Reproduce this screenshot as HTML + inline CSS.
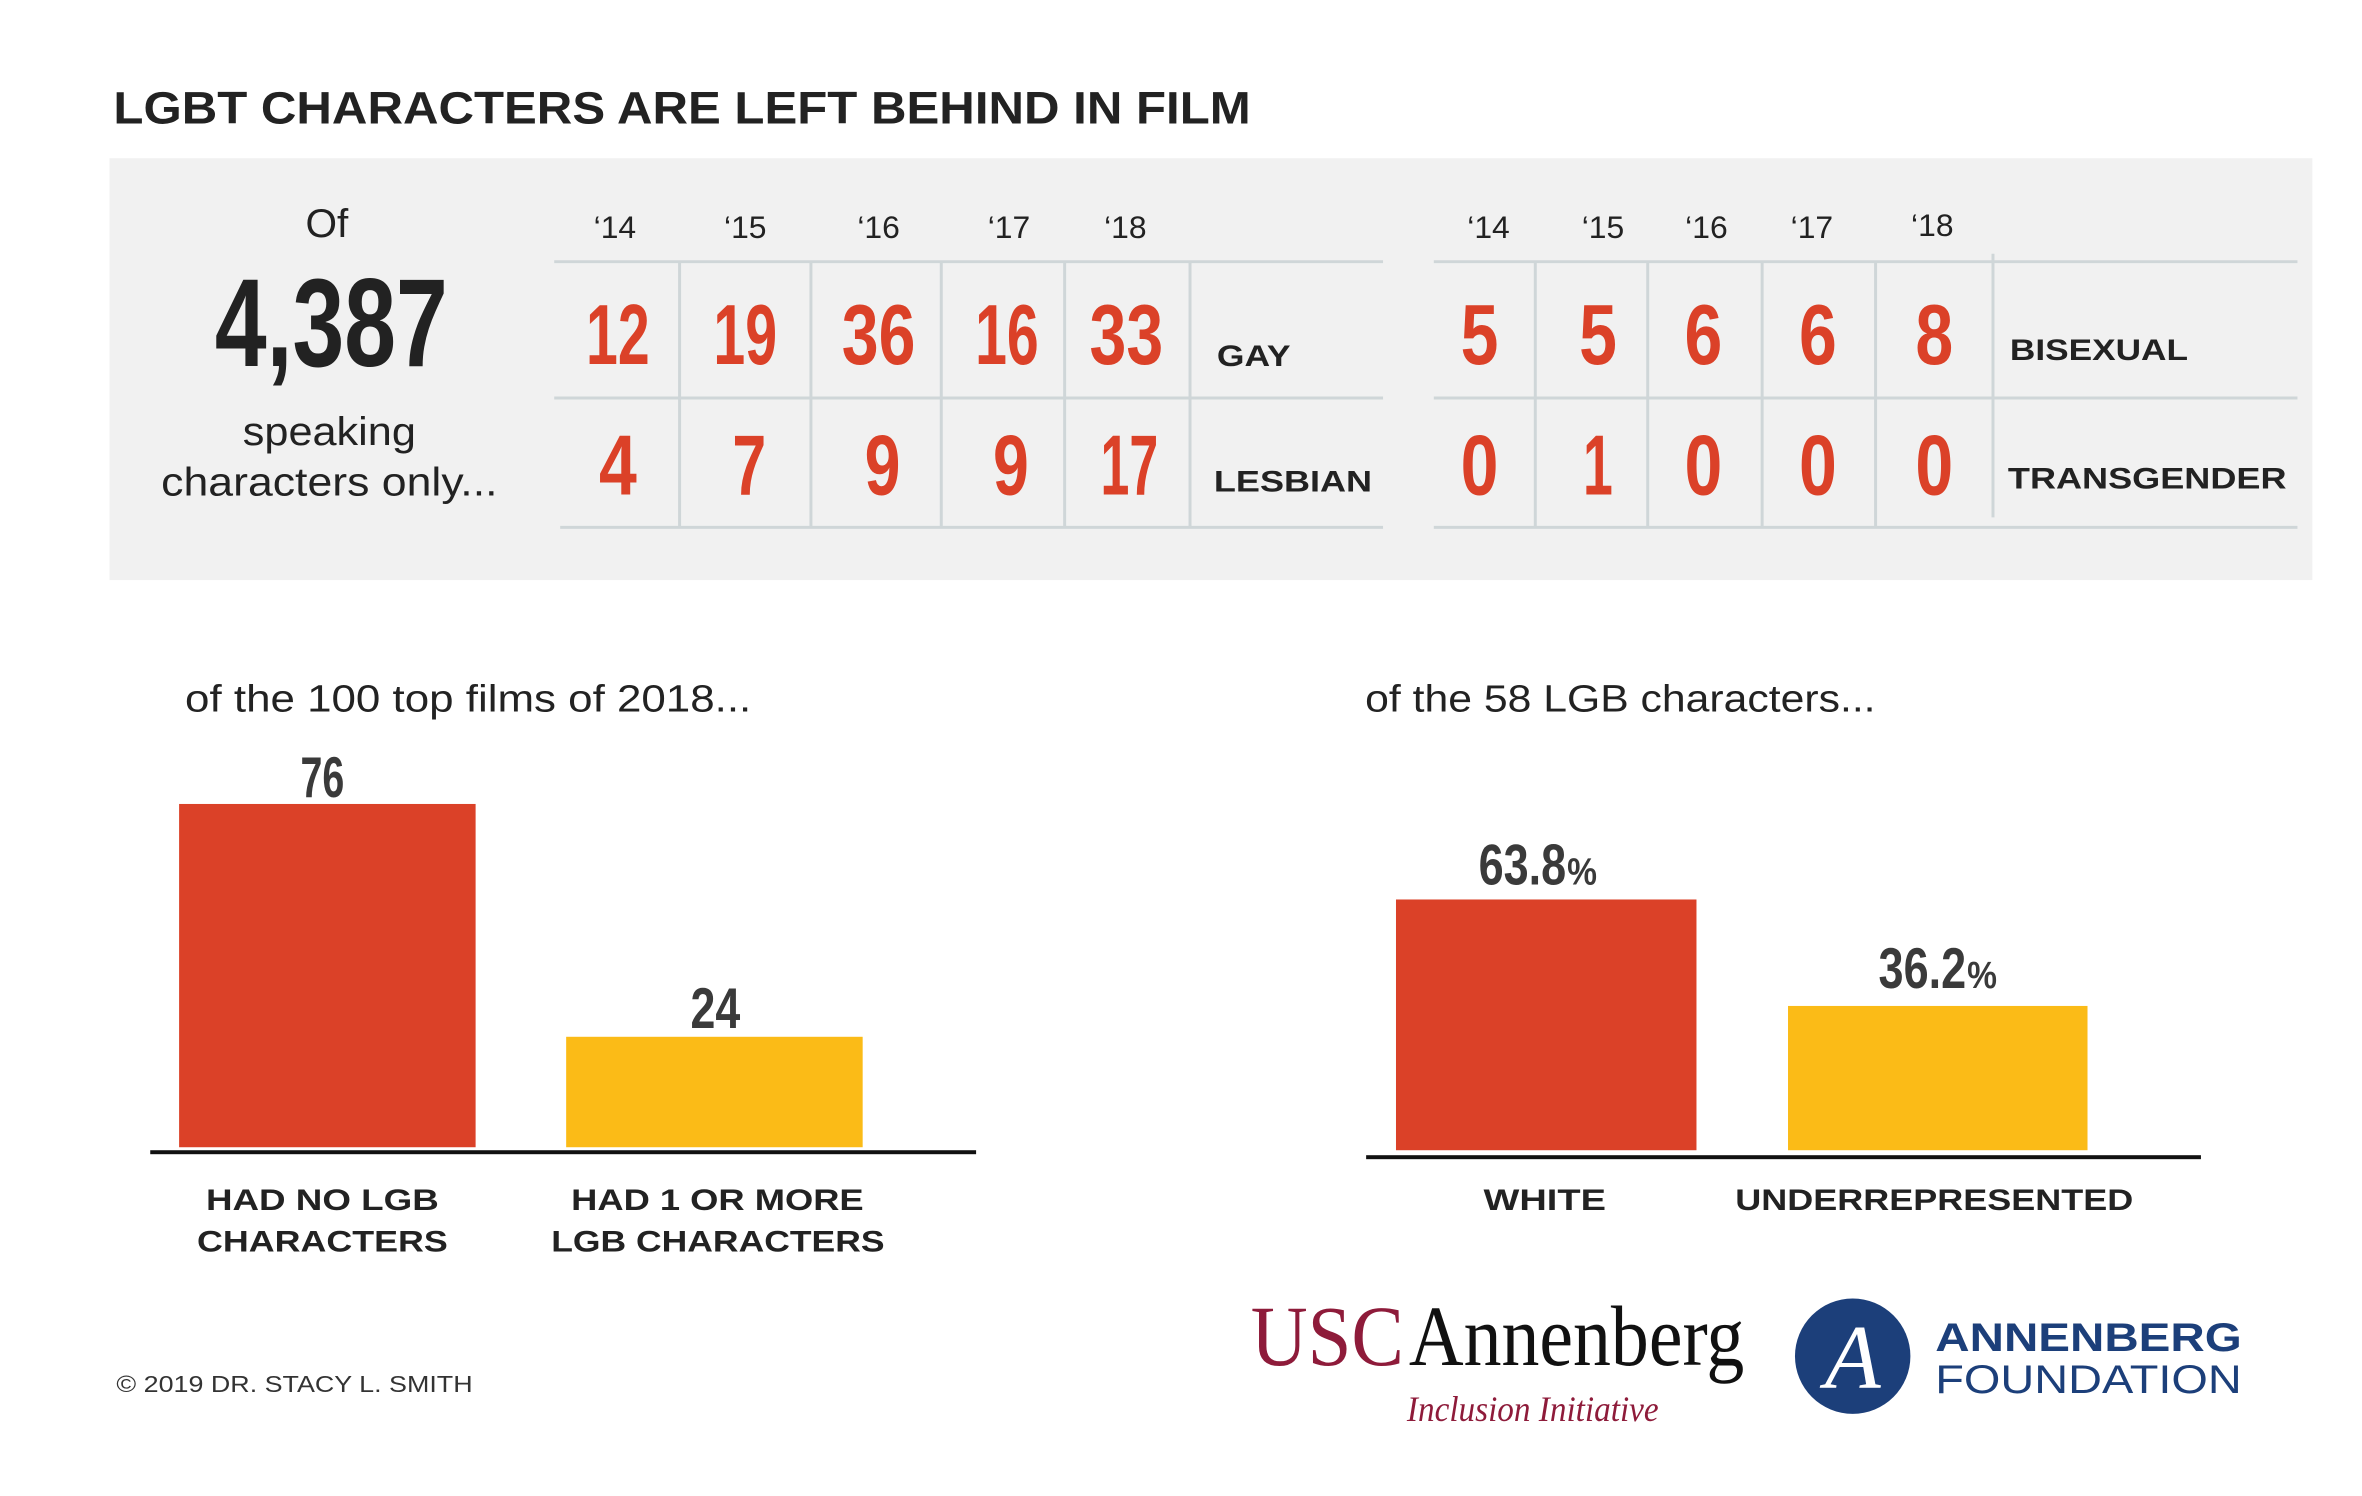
<!DOCTYPE html>
<html><head><meta charset="utf-8"><style>
html,body{margin:0;padding:0;background:#fff;}
svg{display:block;}
text{font-family:"Liberation Sans",sans-serif;}
.r{fill:#db4128;}
</style></head><body>
<svg width="2362" height="1496" viewBox="0 0 2362 1496" xmlns="http://www.w3.org/2000/svg">
<rect width="2362" height="1496" fill="#fff"/>
<g transform="scale(0.995)">
<text x="114" y="124" font-size="46" font-weight="bold" fill="#222" textLength="1143" lengthAdjust="spacingAndGlyphs">LGBT CHARACTERS ARE LEFT BEHIND IN FILM</text>
<rect x="110" y="159" width="2214" height="424" fill="#f1f1f1"/>
<text x="307" y="238" font-size="40" fill="#222" textLength="43" lengthAdjust="spacingAndGlyphs">Of</text>
<text x="216" y="368" font-size="126" font-weight="bold" fill="#222" textLength="234" lengthAdjust="spacingAndGlyphs">4,387</text>
<text x="244" y="447" font-size="40" fill="#222" textLength="174" lengthAdjust="spacingAndGlyphs">speaking</text>
<text x="162" y="498" font-size="40" fill="#222" textLength="338" lengthAdjust="spacingAndGlyphs">characters only...</text>
<g stroke="#cfd6d8" stroke-width="3">
<line x1="557" y1="263" x2="1390" y2="263"/><line x1="557" y1="400" x2="1390" y2="400"/><line x1="563" y1="530" x2="1390" y2="530"/>
<line x1="683" y1="263" x2="683" y2="530"/><line x1="815" y1="263" x2="815" y2="530"/><line x1="946" y1="263" x2="946" y2="530"/><line x1="1070" y1="263" x2="1070" y2="530"/><line x1="1196" y1="263" x2="1196" y2="530"/>
<line x1="1441" y1="263" x2="2309" y2="263"/><line x1="1441" y1="400" x2="2309" y2="400"/><line x1="1441" y1="530" x2="2309" y2="530"/>
<line x1="1543" y1="263" x2="1543" y2="530"/><line x1="1656" y1="263" x2="1656" y2="530"/><line x1="1771" y1="263" x2="1771" y2="530"/><line x1="1885" y1="263" x2="1885" y2="530"/><line x1="2003" y1="255" x2="2003" y2="520"/>
</g>
<g font-size="32" fill="#222" text-anchor="middle">
<text x="618" y="239">‘14</text><text x="749" y="239">‘15</text><text x="883" y="239">‘16</text><text x="1014" y="239">‘17</text><text x="1131" y="239">‘18</text>
<text x="1496" y="239">‘14</text><text x="1611" y="239">‘15</text><text x="1715" y="239">‘16</text><text x="1821" y="239">‘17</text><text x="1942" y="237">‘18</text>
</g>
<g class="r" font-size="86" font-weight="bold" text-anchor="middle">
<text x="621" y="366" textLength="64" lengthAdjust="spacingAndGlyphs">12</text>
<text x="749" y="366" textLength="64" lengthAdjust="spacingAndGlyphs">19</text>
<text x="883" y="366" textLength="74" lengthAdjust="spacingAndGlyphs">36</text>
<text x="1012" y="366" textLength="64" lengthAdjust="spacingAndGlyphs">16</text>
<text x="1132" y="366" textLength="74" lengthAdjust="spacingAndGlyphs">33</text>
<text x="621" y="497" textLength="38" lengthAdjust="spacingAndGlyphs">4</text>
<text x="753" y="497" textLength="34" lengthAdjust="spacingAndGlyphs">7</text>
<text x="887" y="497" textLength="36" lengthAdjust="spacingAndGlyphs">9</text>
<text x="1016" y="497" textLength="36" lengthAdjust="spacingAndGlyphs">9</text>
<text x="1135" y="497" textLength="58" lengthAdjust="spacingAndGlyphs">17</text>
<text x="1487" y="366" textLength="38" lengthAdjust="spacingAndGlyphs">5</text>
<text x="1606" y="366" textLength="38" lengthAdjust="spacingAndGlyphs">5</text>
<text x="1712" y="366" textLength="38" lengthAdjust="spacingAndGlyphs">6</text>
<text x="1827" y="366" textLength="38" lengthAdjust="spacingAndGlyphs">6</text>
<text x="1944" y="366" textLength="38" lengthAdjust="spacingAndGlyphs">8</text>
<text x="1487" y="497" textLength="38" lengthAdjust="spacingAndGlyphs">0</text>
<text x="1606" y="497" textLength="30" lengthAdjust="spacingAndGlyphs">1</text>
<text x="1712" y="497" textLength="38" lengthAdjust="spacingAndGlyphs">0</text>
<text x="1827" y="497" textLength="38" lengthAdjust="spacingAndGlyphs">0</text>
<text x="1944" y="497" textLength="38" lengthAdjust="spacingAndGlyphs">0</text>
</g>
<g font-size="30" fill="#222" font-weight="bold">
<text x="1223" y="368" textLength="74" lengthAdjust="spacingAndGlyphs">GAY</text>
<text x="1220" y="494" textLength="159" lengthAdjust="spacingAndGlyphs">LESBIAN</text>
<text x="2020" y="362" textLength="179" lengthAdjust="spacingAndGlyphs">BISEXUAL</text>
<text x="2018" y="491" textLength="280" lengthAdjust="spacingAndGlyphs">TRANSGENDER</text>
</g>
<text x="186" y="715" font-size="38" fill="#222" textLength="569" lengthAdjust="spacingAndGlyphs">of the 100 top films of 2018...</text>
<text x="1372" y="715" font-size="38" fill="#222" textLength="513" lengthAdjust="spacingAndGlyphs">of the 58 LGB characters...</text>
<rect x="180" y="808" width="298" height="345" fill="#db4128"/>
<rect x="569" y="1042" width="298" height="111" fill="#fbbb17"/>
<rect x="151" y="1156" width="830" height="4" fill="#111"/>
<rect x="1403" y="904" width="302" height="252" fill="#db4128"/>
<rect x="1797" y="1011" width="301" height="145" fill="#fbbb17"/>
<rect x="1373" y="1161" width="839" height="4" fill="#111"/>
<g font-size="58" font-weight="bold" fill="#3a3a3a" text-anchor="middle">
<text x="324" y="801" textLength="44" lengthAdjust="spacingAndGlyphs">76</text>
<text x="719" y="1033" textLength="50" lengthAdjust="spacingAndGlyphs">24</text>
</g>
<g font-weight="bold" fill="#3a3a3a">
<text x="1486" y="889" font-size="58" textLength="88" lengthAdjust="spacingAndGlyphs">63.8</text>
<text x="1575" y="889" font-size="38" textLength="30" lengthAdjust="spacingAndGlyphs">%</text>
<text x="1888" y="993" font-size="58" textLength="88" lengthAdjust="spacingAndGlyphs">36.2</text>
<text x="1977" y="993" font-size="38" textLength="30" lengthAdjust="spacingAndGlyphs">%</text>
</g>
<g font-size="30" font-weight="bold" fill="#222">
<text x="207" y="1216" textLength="234" lengthAdjust="spacingAndGlyphs">HAD NO LGB</text>
<text x="198" y="1258" textLength="252" lengthAdjust="spacingAndGlyphs">CHARACTERS</text>
<text x="574" y="1216" textLength="294" lengthAdjust="spacingAndGlyphs">HAD 1 OR MORE</text>
<text x="554" y="1258" textLength="335" lengthAdjust="spacingAndGlyphs">LGB CHARACTERS</text>
<text x="1491" y="1216" textLength="123" lengthAdjust="spacingAndGlyphs">WHITE</text>
<text x="1744" y="1216" textLength="400" lengthAdjust="spacingAndGlyphs">UNDERREPRESENTED</text>
</g>
<text x="117" y="1399" font-size="23" fill="#333" textLength="358" lengthAdjust="spacingAndGlyphs">© 2019 DR. STACY L. SMITH</text>
<text x="1257" y="1372" font-size="86" fill="#8e1b3a" textLength="154" lengthAdjust="spacingAndGlyphs" style="font-family:'Liberation Serif',serif">USC</text>
<text x="1416" y="1372" font-size="86" fill="#111" textLength="337" lengthAdjust="spacingAndGlyphs" style="font-family:'Liberation Serif',serif">Annenberg</text>
<text x="1414" y="1428" font-size="36" fill="#8e1b3a" font-style="italic" textLength="253" lengthAdjust="spacingAndGlyphs" style="font-family:'Liberation Serif',serif">Inclusion Initiative</text>
<circle cx="1862" cy="1363" r="58" fill="#1c3f7a"/>
<text x="1862" y="1395" font-size="92" fill="#fff" font-style="italic" text-anchor="middle" style="font-family:'Liberation Serif',serif">A</text>
<text x="1945" y="1358" font-size="40" font-weight="bold" fill="#1c3f7a" textLength="308" lengthAdjust="spacingAndGlyphs">ANNENBERG</text>
<text x="1945" y="1400" font-size="40" fill="#1c3f7a" textLength="308" lengthAdjust="spacingAndGlyphs">FOUNDATION</text>
</g>
</svg>
</body></html>
